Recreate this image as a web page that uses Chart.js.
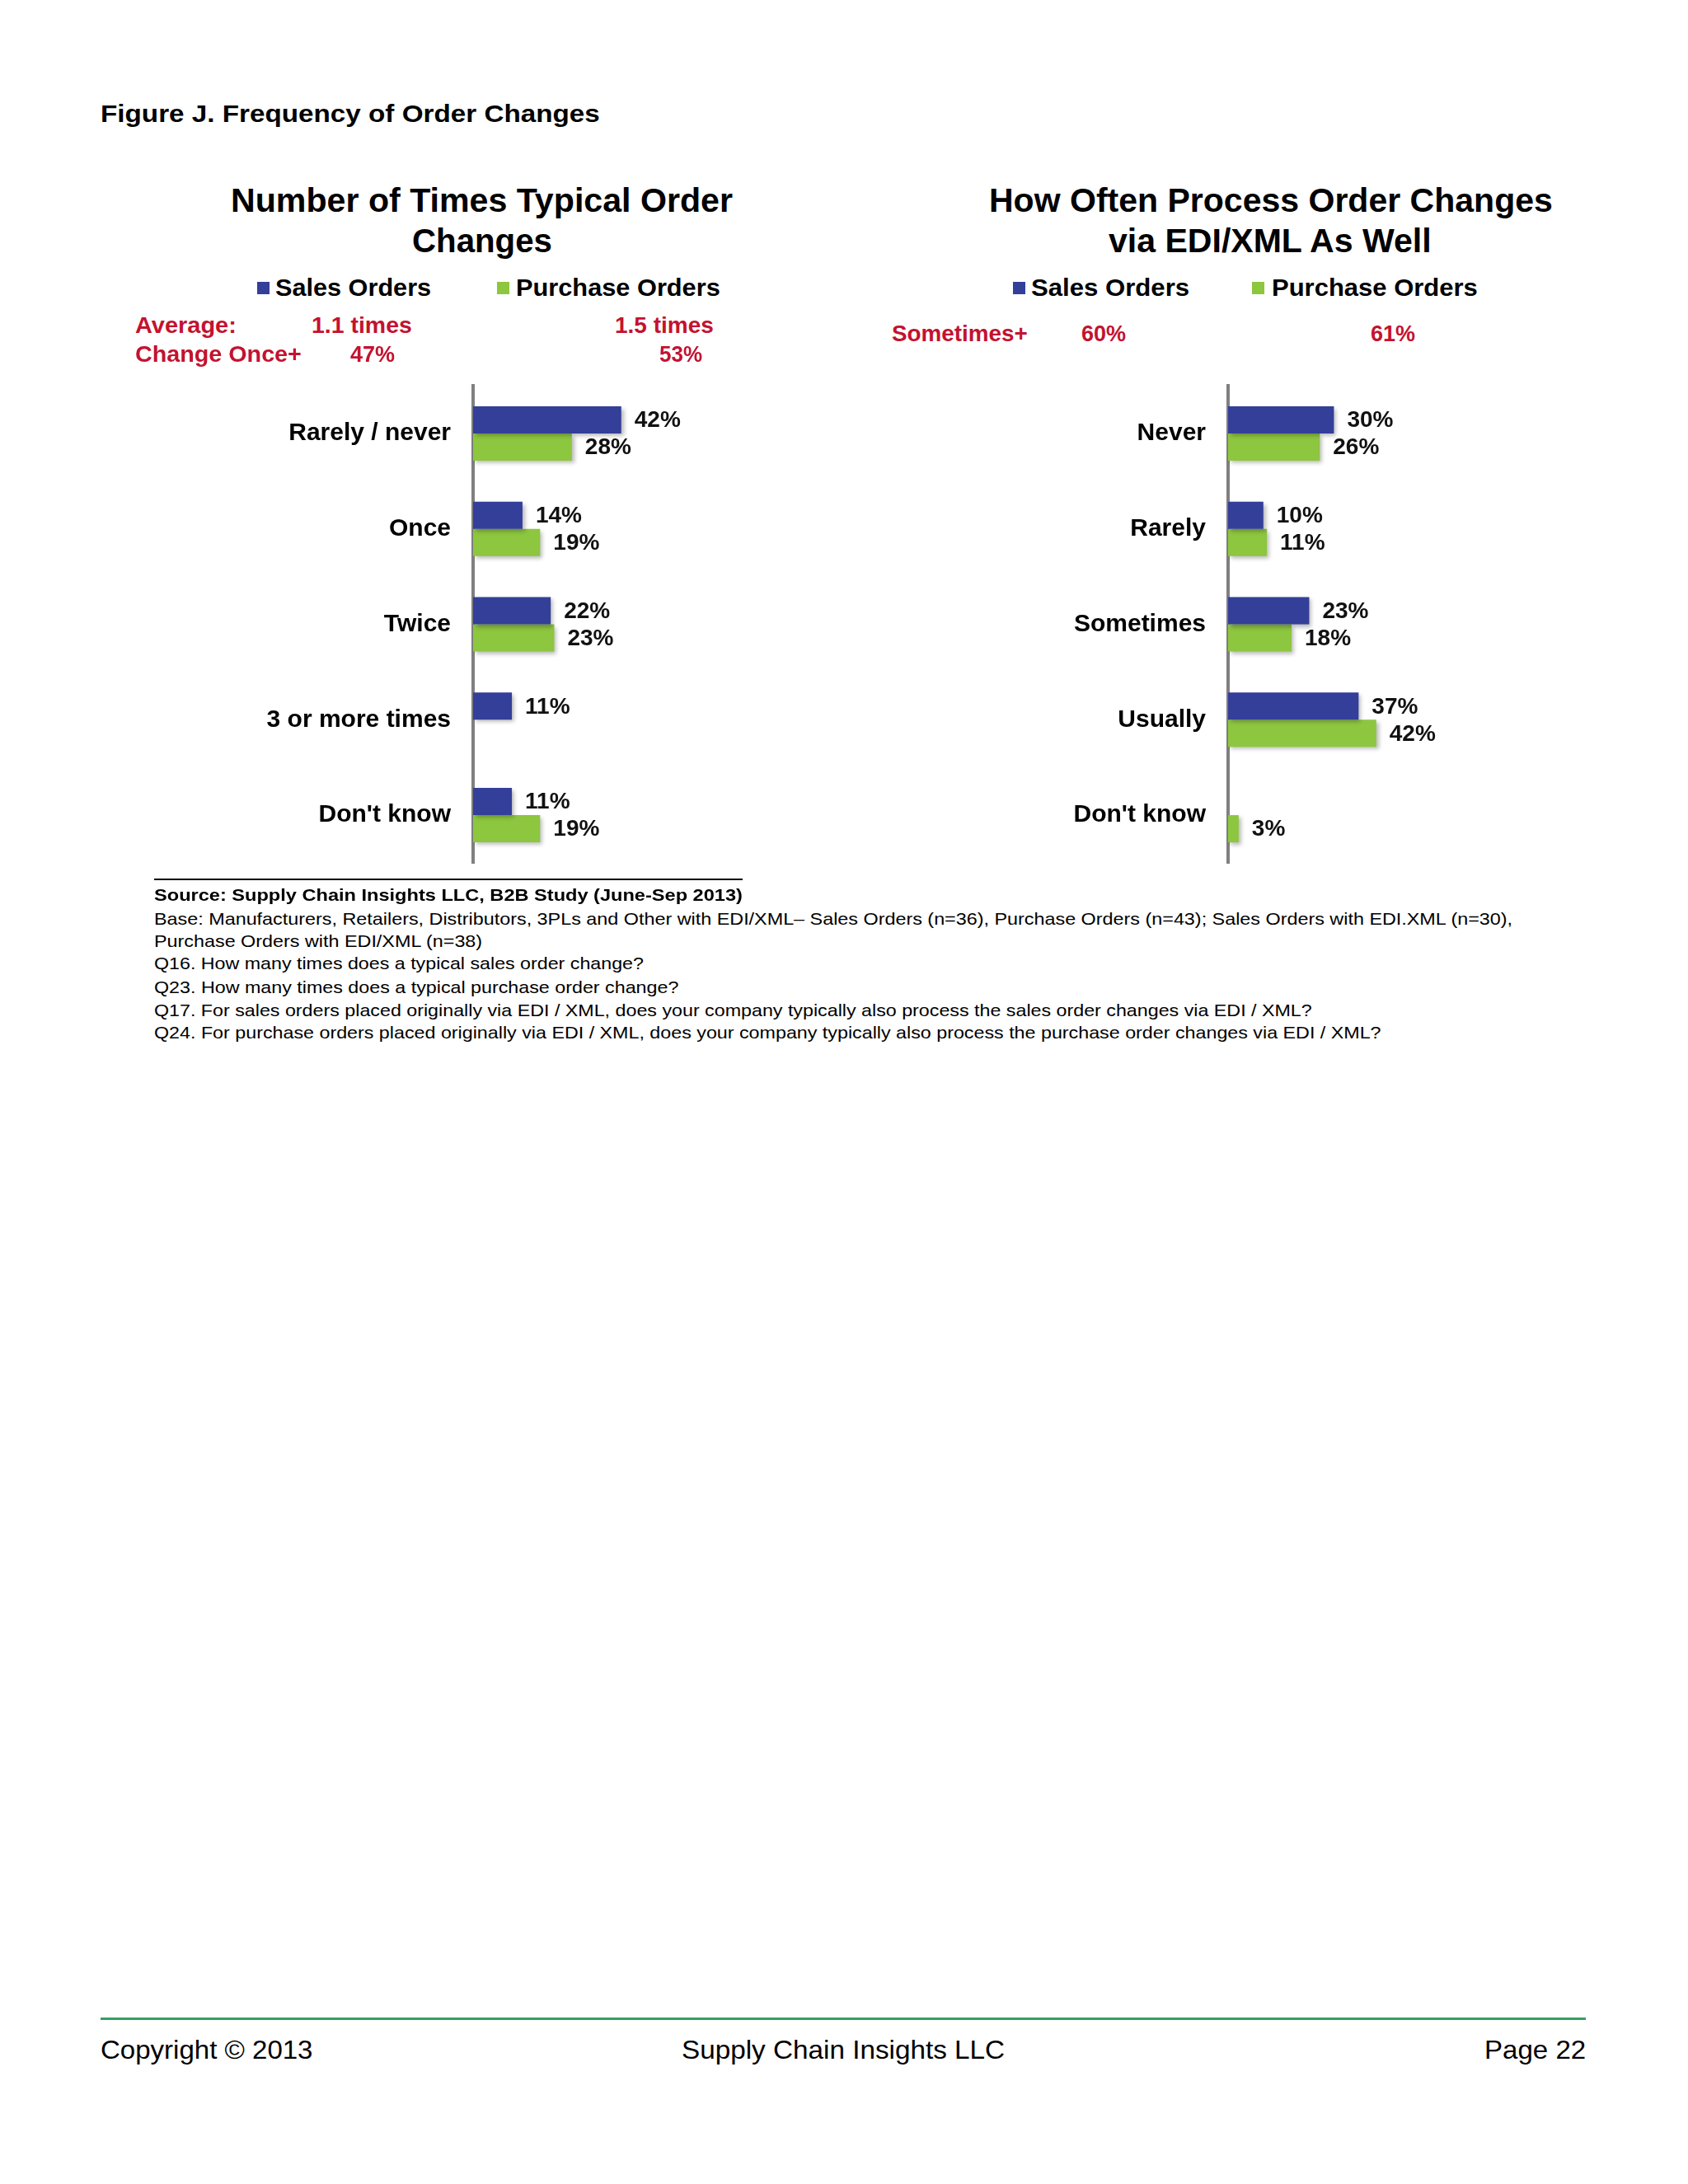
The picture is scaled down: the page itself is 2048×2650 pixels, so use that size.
<!DOCTYPE html>
<html><head><meta charset="utf-8">
<script src="https://cdn.jsdelivr.net/npm/chart.js@4.4.0/dist/chart.umd.min.js"></script>
<style>
html,body{margin:0;padding:0;background:#fff;}
#page{position:relative;width:2048px;height:2650px;background:#fff;overflow:hidden;font-family:"Liberation Sans",Arial,sans-serif;}
.t{position:absolute;white-space:nowrap;line-height:1;transform-origin:0 50%;}
.sq{position:absolute;width:15px;height:15px;}
.rule{position:absolute;}
canvas{position:absolute;}
</style></head><body><div id="page">
<canvas id="c1"></canvas><canvas id="c2"></canvas>
</div>
<script>
// ---- data ----
const seriesNames = ["Sales Orders", "Purchase Orders"];
const categoriesLeft = ["Rarely / never", "Once", "Twice", "3 or more times", "Don't know"];
const salesLeft = [42, 14, 22, 11, 11];
const purchaseLeft = [28, 19, 23, null, 19];
const categoriesRight = ["Never", "Rarely", "Sometimes", "Usually", "Don't know"];
const salesRight = [30, 10, 23, 37, null];
const purchaseRight = [26, 11, 18, 42, 3];
const xMax = 60;

const BLUE = "#333f99", GREEN = "#8dc63f", RED = "#c4122f";
const page = document.getElementById("page");

// ---- texts: [text, x, cy, size, weight, color, targetWidth] ----
const texts = [
  ["Figure J. Frequency of Order Changes", 122, 138, 30, "bold", "#000", 606],
  ["Number of Times Typical Order", 280, 243, 40, "bold", "#000", 609],
  ["Changes", 500, 292, 40, "bold", "#000", 170],
  ["How Often Process Order Changes", 1200, 243, 40, "bold", "#000", 684],
  ["via EDI/XML As Well", 1345, 292, 40, "bold", "#000", 392],
  [seriesNames[0], 334, 349, 30, "bold", "#000", 189],
  [seriesNames[1], 626, 349, 30, "bold", "#000", 248],
  [seriesNames[0], 1251, 349, 30, "bold", "#000", 192],
  [seriesNames[1], 1543, 349, 30, "bold", "#000", 250],
  ["Average:", 164, 395, 28, "bold", RED, 123],
  ["1.1 times", 378, 395, 28, "bold", RED, 122],
  ["1.5 times", 746, 395, 28, "bold", RED, 120],
  ["Change Once+", 164, 430, 28, "bold", RED, 202],
  ["47%", 425, 430, 28, "bold", RED, 54],
  ["53%", 800, 430, 28, "bold", RED, 52],
  ["Sometimes+", 1082, 405, 28, "bold", RED, 165],
  ["60%", 1312, 405, 28, "bold", RED, 54],
  ["61%", 1663, 405, 28, "bold", RED, 54],
  ["Source:  Supply Chain Insights LLC, B2B Study (June-Sep 2013)", 187, 1085, 21, "bold", "#000", 714],
  ["Base:  Manufacturers, Retailers, Distributors, 3PLs and Other with EDI/XML\u2013 Sales Orders (n=36), Purchase Orders (n=43); Sales Orders with EDI.XML (n=30),", 187, 1114, 21, "normal", "#000", 1648],
  ["Purchase Orders with EDI/XML (n=38)", 187, 1141, 21, "normal", "#000", 398],
  ["Q16. How many times does a typical sales order change?", 187, 1168, 21, "normal", "#000", 594],
  ["Q23. How many times does a typical purchase order change?", 187, 1197, 21, "normal", "#000", 636],
  ["Q17. For sales orders placed originally via EDI / XML, does your company typically also process the sales order changes via EDI / XML?", 187, 1225, 21, "normal", "#000", 1405],
  ["Q24. For purchase orders placed originally via EDI / XML, does your company typically also process the purchase order changes via EDI / XML?", 187, 1252, 21, "normal", "#000", 1488],
  ["Copyright \u00a9 2013", 122, 2487, 32, "normal", "#000", 258],
  ["Supply Chain Insights LLC", 827, 2487, 32, "normal", "#000", 392],
  ["Page 22", 1801, 2487, 32, "normal", "#000", 123]
];
const spans = [];
texts.forEach(([s, x, cy, size, w, col, tw]) => {
  const d = document.createElement("div");
  d.className = "t";
  d.textContent = s;
  d.style.left = x + "px";
  d.style.top = (cy - 0.49 * size) + "px";
  d.style.fontSize = size + "px";
  d.style.fontWeight = w;
  d.style.color = col;
  page.appendChild(d);
  spans.push([d, tw]);
});
function fit() { spans.forEach(([d, tw]) => { const w = d.offsetWidth; if (w > 0) d.style.transform = "scaleX(" + (tw / w) + ")"; }); }

// legend squares
[[312, BLUE], [603, GREEN], [1229, BLUE], [1519, GREEN]].forEach(([x, c]) => {
  const q = document.createElement("div"); q.className = "sq";
  q.style.left = x + "px"; q.style.top = "342px"; q.style.background = c; page.appendChild(q);
});
// rules
function rule(x, y, w, h, c) { const r = document.createElement("div"); r.className = "rule";
  r.style.left = x + "px"; r.style.top = y + "px"; r.style.width = w + "px"; r.style.height = h + "px"; r.style.background = c; page.appendChild(r); }
rule(187, 1066, 714, 2, "#000");
rule(122, 2448, 1802, 3, "#35a062");

// ---- charts ----
const shadow = { id: "shadow",
  beforeDatasetsDraw(chart) { const c = chart.ctx; c.save(); c.shadowColor = "rgba(0,0,0,0.28)"; c.shadowBlur = 5; c.shadowOffsetX = 3; c.shadowOffsetY = 3; },
  afterDatasetsDraw(chart) { chart.ctx.restore(); } };
const valueLabels = { id: "valueLabels",
  afterDatasetsDraw(chart) {
    const ctx = chart.ctx; ctx.save();
    ctx.font = 'bold 28px "Liberation Sans", Arial, sans-serif';
    ctx.fillStyle = "#111"; ctx.textBaseline = "middle"; ctx.textAlign = "left";
    chart.data.datasets.forEach((ds, i) => {
      chart.getDatasetMeta(i).data.forEach((el, j) => {
        const v = ds.data[j]; if (v == null) return;
        ctx.fillText(v + "%", el.x + 16, el.y + 1);
      });
    });
    ctx.restore();
  } };

function makeChart(id, left, axisX, cats, s, p) {
  const W = 850, H = 640, top = 440;
  const cv = document.getElementById(id);
  cv.width = W; cv.height = H;
  cv.style.left = left + "px"; cv.style.top = top + "px"; cv.style.width = W + "px"; cv.style.height = H + "px";
  const pxPer = 4.28;
  return new Chart(cv, {
    type: "bar",
    data: { labels: cats, datasets: [
      { label: seriesNames[0], data: s, backgroundColor: BLUE, borderWidth: 0, clip: false },
      { label: seriesNames[1], data: p, backgroundColor: GREEN, borderWidth: 0, clip: false } ] },
    options: {
      indexAxis: "y", responsive: false, animation: false, devicePixelRatio: 1,
      datasets: { bar: { categoryPercentage: 0.57, barPercentage: 1 } },
      layout: { padding: { left: 0, top: 28, bottom: 33, right: W - (axisX - left) - xMax * pxPer } },
      plugins: { legend: { display: false }, tooltip: { enabled: false } },
      scales: {
        x: { display: false, min: 0, max: xMax },
        y: { grid: { display: false, drawTicks: false },
             border: { display: true, color: "#808080", width: 4 },
             ticks: { padding: 27, color: "#000", font: { family: "Liberation Sans", weight: "bold", size: 30 } },
             afterFit(sc) { sc.width = axisX - left; sc.paddingTop = 0; sc.paddingBottom = 0; } }
      }
    },
    plugins: [shadow, valueLabels]
  });
}
makeChart("c1", 150, 574, categoriesLeft, salesLeft, purchaseLeft);
makeChart("c2", 1050, 1490, categoriesRight, salesRight, purchaseRight);

fit();
if (document.fonts && document.fonts.ready) document.fonts.ready.then(fit);
</script>
</body></html>
